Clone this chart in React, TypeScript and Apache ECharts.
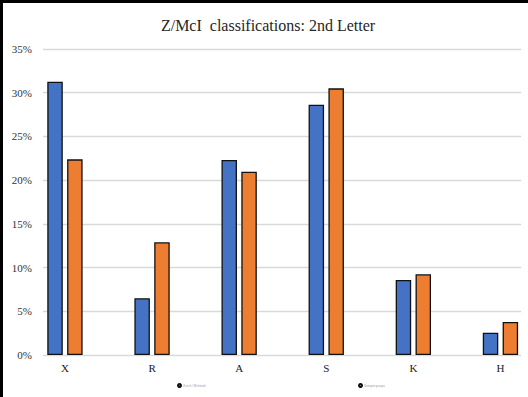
import React, { useEffect, useRef } from "react";
import * as echarts from "echarts";

// McIntosh second-letter (penumbra) classes
const categories = ["X", "R", "A", "S", "K", "H"];
const seriesNames = ["Zurich / McIntosh", "Sunspot groups"];
// share of groups per class, in percent
const blueValues = [31.26, 6.49, 22.3, 28.63, 8.58, 2.55];
const orangeValues = [22.38, 12.89, 20.97, 30.5, 9.23, 3.77];
const yTicks = { min: 0, max: 35, interval: 5 };

const SERIF = "'Liberation Serif', 'DejaVu Serif', serif";
// the drawing surface is a little wider than the visible frame
const CANVAS_W = 560;
const VIEW_W = 528;
const VIEW_H = 397;

export default function App() {
  const ref = useRef<HTMLDivElement>(null);

  useEffect(() => {
    if (!ref.current) return;
    const chart = echarts.init(ref.current, undefined, { renderer: "svg" });
    chart.setOption({
      animation: false,
      backgroundColor: "#ffffff",
      title: {
        text: "Z/McI  classifications: 2nd Letter",
        left: 263,
        textAlign: "center",
        top: 12,
        textStyle: {
          fontFamily: SERIF,
          fontSize: 16,
          fontWeight: "normal",
          color: "#262626",
        },
      },
      legend: {
        left: 172,
        top: 378,
        itemGap: 152,
        itemWidth: 3,
        itemHeight: 3,
        icon: "circle",
        textStyle: { fontSize: 3, color: "#9a9a9a", padding: [0, 0, 0, -3] },
        data: seriesNames,
      },
      graphic: [
        {
          type: "rect",
          shape: { x: 0, y: 0, width: VIEW_W, height: 3 },
          style: { fill: "#000" },
          silent: true,
        },
        {
          type: "rect",
          shape: { x: 0, y: 0, width: 3, height: VIEW_H },
          style: { fill: "#000" },
          silent: true,
        },
      ],
      grid: [
        { left: 43, right: CANVAS_W - 521, top: 49, bottom: 42 },
        { left: 21.4, right: CANVAS_W - 544, top: 49, bottom: 42 },
      ],
      xAxis: [
        {
          type: "category",
          gridIndex: 0,
          data: categories,
          show: false,
        },
        {
          type: "category",
          gridIndex: 1,
          data: categories,
          axisLine: { show: false },
          axisTick: { show: false },
          axisLabel: {
            margin: 7,
            fontFamily: SERIF,
            fontSize: 11,
            color: "#222",
          },
        },
      ],
      yAxis: [
        {
          type: "value",
          gridIndex: 0,
          ...yTicks,
          axisLine: { show: false },
          axisTick: { show: false },
          axisLabel: {
            margin: 11,
            fontFamily: SERIF,
            fontSize: 11,
            color: "#333",
            formatter: "{value}%",
          },
          splitLine: { lineStyle: { color: "#d9d9d9", width: 1.3 } },
        },
        {
          type: "value",
          gridIndex: 1,
          ...yTicks,
          show: false,
        },
      ],
      series: [
        {
          name: seriesNames[0],
          type: "bar",
          xAxisIndex: 1,
          yAxisIndex: 1,
          data: blueValues,
          barWidth: 15.5,
          barGap: "28%",
          itemStyle: { color: "#4472C4", borderColor: "#111", borderWidth: 1.3 },
        },
        {
          name: seriesNames[1],
          type: "bar",
          xAxisIndex: 1,
          yAxisIndex: 1,
          data: orangeValues,
          barWidth: 15.5,
          itemStyle: { color: "#ED7D31", borderColor: "#111", borderWidth: 1.3 },
        },
      ],
    });
    return () => chart.dispose();
  }, []);

  return (
    <div
      style={{
        position: "fixed",
        left: 0,
        top: 0,
        width: VIEW_W,
        height: VIEW_H,
        overflow: "hidden",
      }}
    >
      <div ref={ref} style={{ width: CANVAS_W, height: VIEW_H }} />
    </div>
  );
}
